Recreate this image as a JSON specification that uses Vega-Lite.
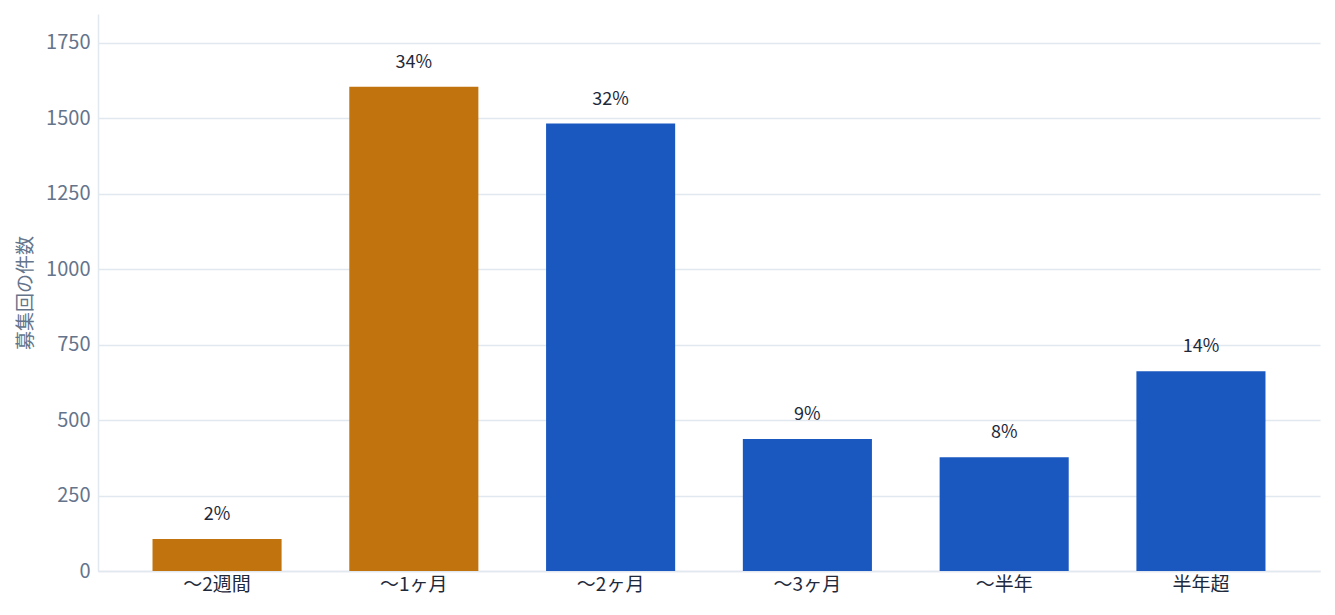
{
  "$schema": "https://vega.github.io/schema/vega-lite/v6.json",
  "width": 1335,
  "height": 615,
  "autosize": {"type": "fit", "contains": "padding"},
  "padding": {"top": 14, "bottom": 21, "left": 16, "right": 15},
  "background": "white",
  "config": {
    "font": "Noto Sans CJK JP",
    "view": {"stroke": null}
  },
  "data": {
    "values": [
      {"period": "〜2週間", "count": 106, "pct": "2%", "group": "短期"},
      {"period": "〜1ヶ月", "count": 1604, "pct": "34%", "group": "短期"},
      {"period": "〜2ヶ月", "count": 1482, "pct": "32%", "group": "その他"},
      {"period": "〜3ヶ月", "count": 437, "pct": "9%", "group": "その他"},
      {"period": "〜半年", "count": 377, "pct": "8%", "group": "その他"},
      {"period": "半年超", "count": 662, "pct": "14%", "group": "その他"}
    ]
  },
  "encoding": {
    "x": {
      "field": "period",
      "type": "nominal",
      "sort": null,
      "scale": {"paddingInner": 0.344, "paddingOuter": 0.277},
      "axis": {
        "title": null,
        "labelAngle": 0,
        "labelFontSize": 19,
        "labelColor": "#1e293b",
        "labelPadding": 4,
        "ticks": false,
        "domainColor": "#e2e8f0",
        "domainWidth": 1.5
      }
    },
    "y": {
      "field": "count",
      "type": "quantitative",
      "scale": {"domain": [0, 1845], "nice": false},
      "axis": {
        "title": "募集回の件数",
        "titleFontSize": 19,
        "titleFontWeight": "normal",
        "titleColor": "#64748b",
        "titlePadding": 10,
        "format": "d",
        "values": [0, 250, 500, 750, 1000, 1250, 1500, 1750],
        "labelFontSize": 20,
        "labelColor": "#64748b",
        "labelPadding": 8,
        "ticks": false,
        "domainColor": "#e2e8f0",
        "domainWidth": 1.5,
        "gridColor": "#e2e8f0",
        "gridWidth": 1.5
      }
    }
  },
  "layer": [
    {
      "mark": {"type": "bar"},
      "encoding": {
        "color": {
          "field": "group",
          "type": "nominal",
          "scale": {"domain": ["短期", "その他"], "range": ["#c1740d", "#1a58c0"]},
          "legend": null
        }
      }
    },
    {
      "mark": {"type": "text", "baseline": "bottom", "dy": -15, "fontSize": 18, "color": "#1e293b"},
      "encoding": {
        "text": {"field": "pct", "type": "nominal"}
      }
    }
  ]
}
